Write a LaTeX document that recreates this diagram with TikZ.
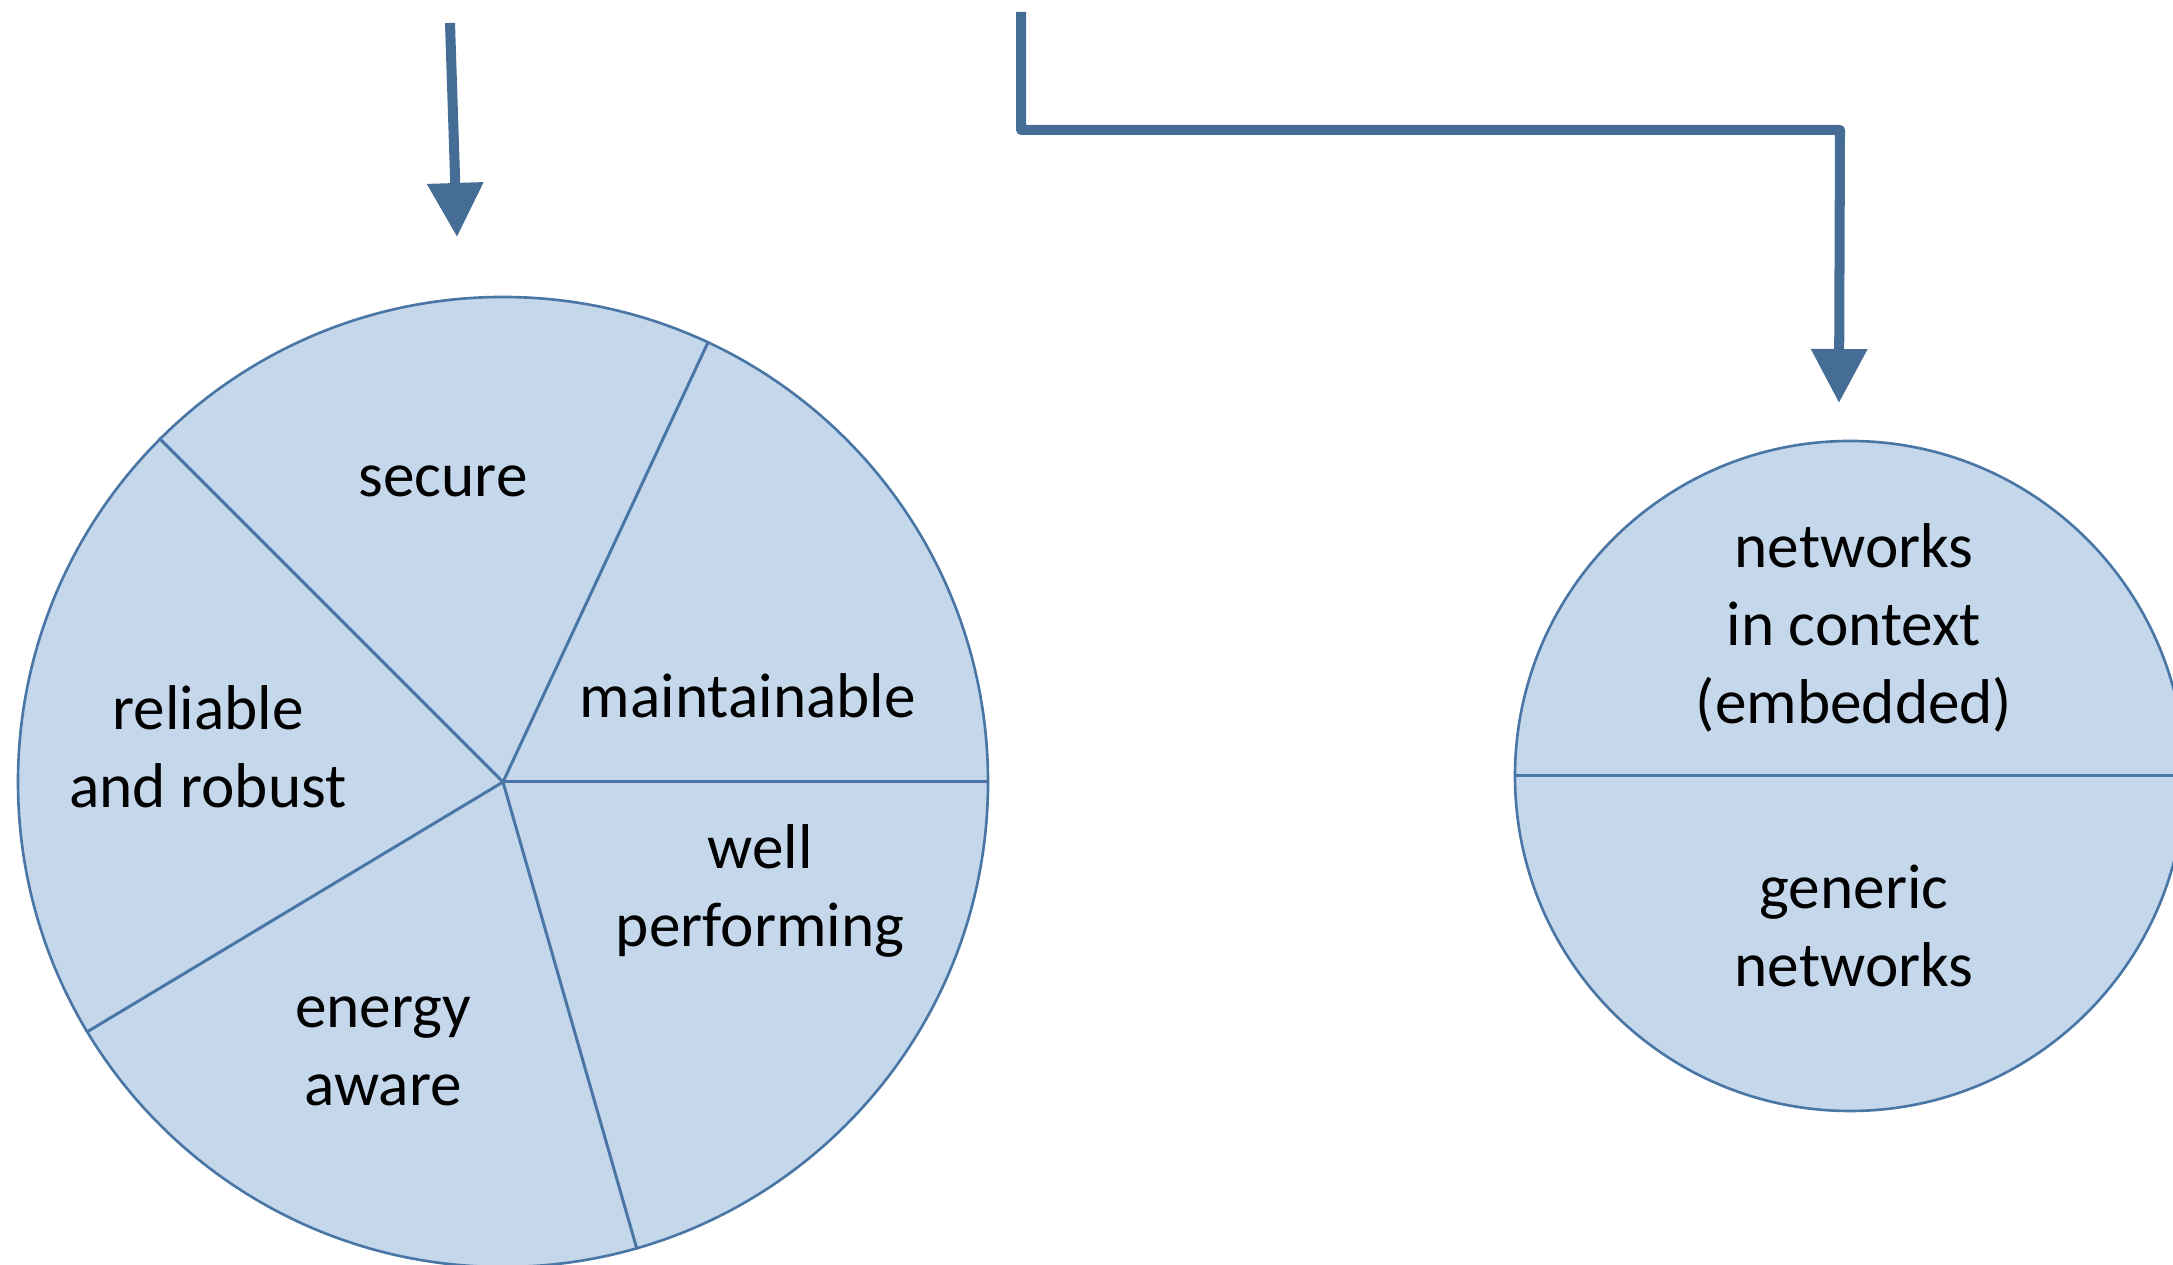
\documentclass[tikz,border=0pt]{standalone}
\usepackage{fontspec}
\setmainfont{Carlito}
\usetikzlibrary{arrows.meta}
\definecolor{piefill}{HTML}{C5D8EB}
\definecolor{pieline}{HTML}{4A76A6}
\definecolor{flowline}{HTML}{466D95}
\tikzset{
  disc/.style={circle, fill=piefill, draw=pieline, line width=0.75pt, inner sep=0pt},
  slice/.style={draw=pieline, line width=0.85pt},
  slicetext/.style={align=center, font=\fontsize{18}{22.2}\selectfont},
  flow/.style={draw=flowline, line width=2.85pt, line join=round,
    -{Triangle[length=0.54cm,width=0.54cm]}}
}
\begin{document}
\begin{tikzpicture}
  \useasboundingbox (0,0) rectangle (21.73,12.65);
  \node[disc, minimum size=9.7cm] (pie) at (5.03,4.83) {};
  \node[disc, minimum size=6.7cm] (net) at (18.50,4.89) {};
  \foreach \a in {65.2,0,-74.2,-149.4,135.5}
    \draw[slice] (pie.center) -- (pie.\a);
  \draw[slice] (net.180.4) -- (net.0);
  \node[slicetext] (secure) at (4.43,7.84) {secure};
  \node[slicetext] (maint) at (7.48,5.69) {maintainable};
  \node[slicetext] (robust) at (2.08,5.18) {reliable\\and robust};
  \node[slicetext] (perf) at (7.60,3.74) {well\\performing};
  \node[slicetext] (energy) at (3.83,2.14) {energy\\aware};
  \node[slicetext] (embed) at (18.54,6.37) {networks\\in context\\(embedded)};
  \node[slicetext] (generic) at (18.54,3.39) {generic\\networks};
  \coordinate (inA) at (4.50,12.42);
  \coordinate (outA) at (4.57,10.28);
  \coordinate (inB) at (10.21,12.53);
  \coordinate (bendB) at (10.21,11.35);
  \coordinate (turnB) at (18.40,11.35);
  \coordinate (outB) at (18.39,8.62);
  \draw[flow] (inA) -- (outA);
  \draw[flow] (inB) -- (bendB) -- (turnB) -- (outB);
\end{tikzpicture}
\end{document}
